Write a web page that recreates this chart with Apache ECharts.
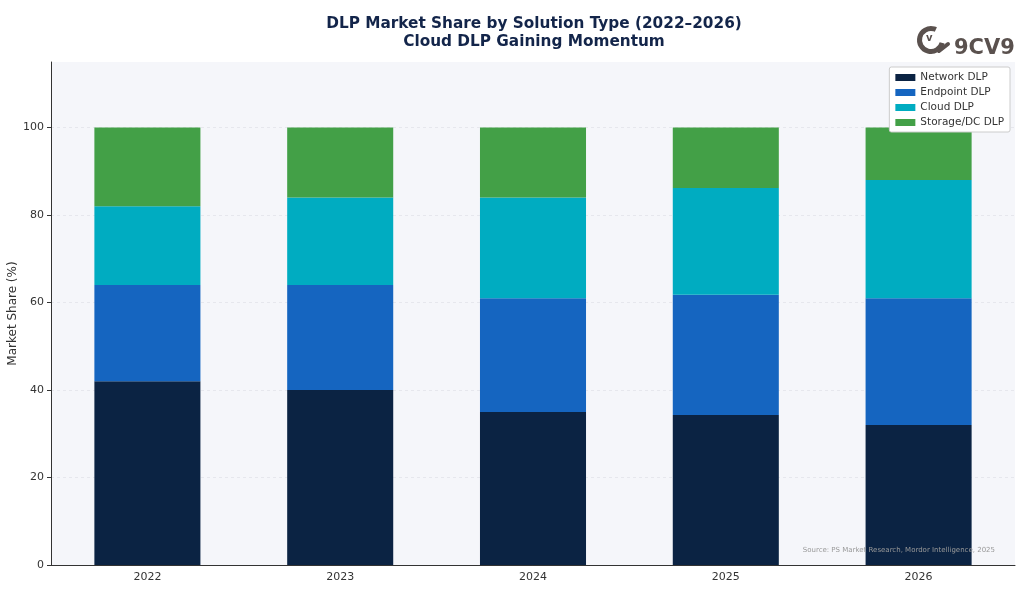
<!DOCTYPE html>
<html>
<head>
<meta charset="utf-8">
<script src="https://cdn.jsdelivr.net/npm/echarts@6/dist/echarts.min.js"></script>
<style>html,body{margin:0;padding:0;background:#fff}#c{width:1024px;height:590px}</style>
</head>
<body>
<div id="c"></div>
<script>
const years = ['2022', '2023', '2024', '2025', '2026'];
const networkDLP = [42, 40, 35, 34.3, 32];
const endpointDLP = [22, 24, 26, 27.5, 29];
const cloudDLP = [18, 20, 23, 24.4, 27];
const storageDLP = [18, 16, 16, 13.8, 12];
const yTicks = [0, 20, 40, 60, 80, 100];

const names = ['Network DLP', 'Endpoint DLP', 'Cloud DLP', 'Storage/DC DLP'];
const colors = ['#0b2343', '#1565c0', '#00acc1', '#43a047'];
const dataSets = [networkDLP, endpointDLP, cloudDLP, storageDLP];

const chart = echarts.init(document.getElementById('c'));
const font = 'DejaVu Sans';
const deg = Math.PI / 180;
chart.setOption({
  animation: false,
  textStyle: { fontFamily: font },
  title: [{
    text: 'DLP Market Share by Solution Type (2022–2026)\nCloud DLP Gaining Momentum',
    left: 529, top: 10, textAlign: 'center',
    textStyle: { fontFamily: font, fontSize: 15.3, fontWeight: 'bold', color: '#13254a', lineHeight: 18 }
  }],
  grid: { left: 51, right: 9, top: 62, bottom: 25, show: true, backgroundColor: '#f5f6fa', borderWidth: 0, outerBoundsMode: 'none', containLabel: false },
  legend: {
    data: names, orient: 'vertical', right: 14, top: 67,
    itemWidth: 20, itemHeight: 7, itemGap: 4,
    backgroundColor: '#ffffff', borderColor: '#cccccc', borderWidth: 1, borderRadius: 2,
    padding: [5, 6, 4, 6],
    textStyle: { fontFamily: font, fontSize: 10.5, color: '#333' },
    icon: 'rect'
  },
  xAxis: {
    type: 'category', data: years,
    axisLine: { lineStyle: { color: '#333', width: 1 } },
    axisTick: { alignWithLabel: true, lineStyle: { color: '#333' }, length: 4 },
    axisLabel: { fontFamily: font, fontSize: 11, color: '#333', margin: 7 }
  },
  yAxis: {
    type: 'value', min: 0, max: 115, interval: 20,
    name: 'Market Share (%)', nameLocation: 'middle', nameGap: 32, nameMoveOverlap: false,
    nameTextStyle: { fontFamily: font, fontSize: 12, color: '#333' },
    axisLine: { show: true, lineStyle: { color: '#333', width: 1 } },
    axisTick: { show: true, length: 4, lineStyle: { color: '#333' }, customValues: yTicks },
    axisLabel: { fontFamily: font, fontSize: 11, color: '#333', margin: 7, customValues: yTicks },
    splitLine: { show: true, lineStyle: { color: '#e2e4ea', type: [3, 3], width: 0.8 } }
  },
  series: dataSets.map((d, i) => ({
    name: names[i], type: 'bar', stack: 'total', data: d,
    barWidth: '55%',
    itemStyle: { color: colors[i] }
  })),
  graphic: [
    {
      type: 'text', right: 29, top: 547, z: 100,
      style: { text: 'Source: PS Market Research, Mordor Intelligence, 2025', fontFamily: font, fontSize: 7, fill: '#999', textAlign: 'right' }
    },
    {
      type: 'arc', z: 100,
      shape: { cx: 931, cy: 40, r: 11.5, startAngle: 15 * deg, endAngle: 295 * deg, clockwise: true },
      style: { stroke: '#5a514e', lineWidth: 5, fill: null }
    },
    {
      type: 'line', z: 100,
      shape: { x1: 939, y1: 51, x2: 948, y2: 44 },
      style: { stroke: '#5a514e', lineWidth: 4, lineCap: 'round' }
    },
    {
      type: 'text', z: 100, left: 926, top: 33,
      style: { text: 'v', fontFamily: font, fontSize: 10, fontWeight: 'bold', fill: '#5a514e' }
    },
    {
      type: 'text', z: 100, left: 954, top: 38,
      style: { text: '9CV9', fontFamily: font, fontSize: 21, fontWeight: 'bold', fill: '#5a514e' }
    }
  ]
});
</script>
</body>
</html>
